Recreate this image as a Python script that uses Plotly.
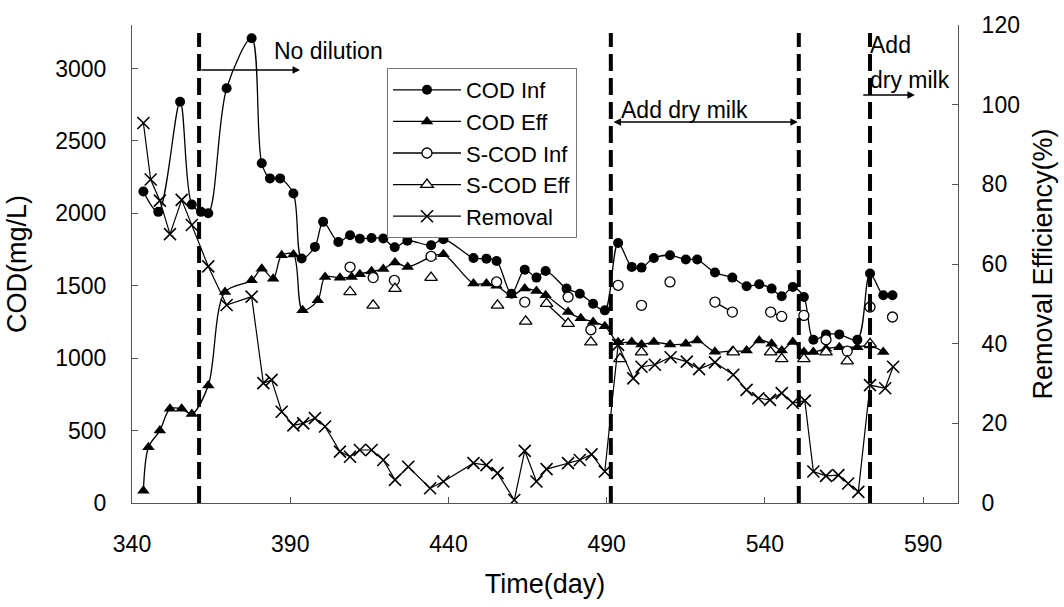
import plotly.graph_objects as go

# ---------------- data ----------------
cod_inf_day = [343.6, 348.3, 355.2, 358.9, 361.8, 364.1, 369.9, 377.8, 381.0, 383.6, 386.8, 391.0,
               393.6, 397.8, 400.4, 405.2, 408.9, 412.0, 415.7, 419.4, 423.0, 427.0, 434.5, 438.4,
               447.9, 452.0, 455.2, 459.9, 464.1, 467.8, 470.7, 477.3, 481.5, 485.7, 489.4,
               493.6, 497.9, 501.0, 504.9, 510.0, 515.0, 518.6, 524.2, 529.7, 534.2, 538.2, 542.1,
               545.3, 548.8, 552.3, 555.3, 559.3, 563.5, 569.2, 573.2, 577.4, 580.3]
cod_inf = [2150, 2010, 2770, 2060, 2010, 2000, 2863, 3209, 2345, 2241, 2241, 2137,
           1688, 1768, 1941, 1802, 1849, 1825, 1830, 1826, 1766, 1810, 1780, 1821,
           1692, 1687, 1671, 1445, 1611, 1556, 1602, 1480, 1445, 1376, 1330,
           1795, 1630, 1625, 1692, 1710, 1681, 1681, 1591, 1556, 1496, 1510, 1480,
           1427, 1491, 1422, 1127, 1164, 1164, 1127, 1584, 1434, 1434]

cod_eff_day = [343.6, 345.2, 348.8, 352.0, 355.7, 358.9, 364.1, 369.4, 377.8, 381.0, 384.6, 387.3,
               391.0, 393.9, 398.7, 401.0, 405.7, 409.4, 412.0, 415.7, 419.4, 423.1, 427.1, 434.5,
               438.4, 447.9, 452.0, 455.2, 459.9, 464.1, 467.8, 470.7, 477.8, 481.8, 485.7, 489.4,
               493.6, 497.9, 501.0, 504.9, 510.0, 515.0, 518.6, 524.2, 529.7, 534.2, 538.2, 542.1,
               545.3, 548.8, 552.3, 555.3, 559.3, 563.5, 569.2, 573.2, 577.4]
cod_eff = [85, 385, 500, 650, 650, 615, 811, 1457, 1537, 1618, 1549, 1710,
           1715, 1330, 1399, 1560, 1555, 1560, 1580, 1600, 1615, 1660, 1630, 1700,
           1717, 1515, 1515, 1500, 1434, 1480, 1463, 1434, 1318, 1275, 1250, 1220,
           1110, 1111, 1095, 1111, 1095, 1099, 1122, 1045, 1050, 1053, 1122, 1099,
           1053, 1111, 1042, 1042, 1065, 1076, 1076, 1088, 1042]

# None separates points that are not joined by a line
scod_inf_day = [408.9, None, 416.2, None, 422.9, None, 434.5, None, 455.2, None, 464.1, None,
                477.8, None, 485.0, None, 493.6, None, 501.0, None, 510.0, None, 524.2, 529.7, None,
                541.8, 545.3, None, 552.3, None, 559.3, None, 566.0, None, 573.2, None, 580.3]
scod_inf = [1629, None, 1556, None, 1537, None, 1703, None, 1526, None, 1387, None,
            1422, None, 1196, None, 1503, None, 1365, None, 1526, None, 1387, 1318, None,
            1318, 1288, None, 1295, None, 1127, None, 1049, None, 1353, None, 1284]

scod_eff_day = [408.9, None, 416.2, None, 423.1, None, 434.5, None, 455.5, None, 464.4, None,
                471.0, 477.8, None, 485.0, None, 494.2, None, 501.0, None, 530.0, None, 541.8, None,
                545.3, None, 552.3, None, 559.3, None, 566.0, None, 573.2]
scod_eff = [1457, None, 1365, None, 1480, None, 1556, None, 1365, None, 1254, None,
            1376, 1238, None, 1111, None, 995, None, 1042, None, 1042, None, 1042, None,
            995, None, 995, None, 1042, None, 980, None, 1099]

removal_day = [343.6, 345.9, 348.8, 352.0, 355.7, 358.9, 364.1, 369.9, 377.8, 381.5, 384.1, 387.3,
               391.0, 394.1, 397.8, 401.0, 405.7, 408.9, 412.0, 415.7, 419.4, 423.1, 427.3, 434.2,
               438.4, 447.9, 452.0, 455.5, 460.8, 464.1, 467.8, 471.0, 477.8, 481.5, 485.2, 489.4,
               493.6, 498.4, 501.0, 505.2, 510.2, 515.3, 519.2, 524.2, 530.0, 534.2, 537.9, 541.6,
               545.3, 548.8, 552.6, 555.3, 559.3, 563.2, 566.3, 569.5, 573.2, 578.0, 580.5]
removal = [95.4, 81.2, 75.9, 67.5, 76.1, 69.8, 59.4, 49.7, 51.8, 30.1, 30.9, 22.9,
           19.5, 20.0, 21.3, 19.2, 12.9, 11.6, 13.3, 13.3, 10.8, 5.8, 9.1, 3.7,
           5.4, 10.0, 9.5, 7.5, 0.75, 13.1, 5.4, 8.5, 10.0, 10.8, 12.2, 7.9,
           39.7, 31.3, 34.2, 34.7, 36.6, 35.5, 33.6, 35.3, 32.2, 28.4, 26.3, 25.9,
           27.6, 25.1, 25.7, 7.9, 6.8, 7.0, 4.9, 2.8, 29.6, 28.8, 34.2]

phase_days = [361.2, 491.3, 550.7, 573.2]
x_ticks = [340, 390, 440, 490, 540, 590]
y_ticks = [0, 500, 1000, 1500, 2000, 2500, 3000]
y2_ticks = [0, 20, 40, 60, 80, 100, 120]

FONT = "Liberation Sans, Arial, sans-serif"
LINE = dict(color="black", width=1.3, shape="spline", smoothing=0.9)

fig = go.Figure()
fig.add_trace(go.Scatter(x=cod_inf_day, y=cod_inf, name="COD Inf", mode="lines+markers",
                         line=LINE, marker=dict(symbol="circle", size=10, color="black")))
fig.add_trace(go.Scatter(x=cod_eff_day, y=cod_eff, name="COD Eff", mode="lines+markers",
                         line=LINE, marker=dict(symbol="triangle-up", size=11, color="black")))
fig.add_trace(go.Scatter(x=scod_inf_day, y=scod_inf, name="S-COD Inf", mode="lines+markers",
                         line=LINE, connectgaps=False,
                         marker=dict(symbol="circle", size=10, color="white",
                                     line=dict(color="black", width=1.3))))
fig.add_trace(go.Scatter(x=scod_eff_day, y=scod_eff, name="S-COD Eff", mode="lines+markers",
                         line=LINE, connectgaps=False,
                         marker=dict(symbol="triangle-up", size=11, color="white",
                                     line=dict(color="black", width=1.3))))
fig.add_trace(go.Scatter(x=removal_day, y=removal, name="Removal", mode="lines+markers",
                         yaxis="y2", line=dict(color="black", width=1.2),
                         marker=dict(symbol="x-thin", size=12, color="black",
                                     line=dict(color="black", width=1.6))))

for d in phase_days:
    fig.add_shape(type="line", xref="x", yref="y", x0=d, x1=d, y0=0, y1=3245,
                  line=dict(color="black", width=4, dash="17px,7px"), layer="above")

arrow = dict(showarrow=True, text="", xref="x", yref="y", axref="x", ayref="y",
             arrowhead=2, arrowsize=1, arrowwidth=1.5, arrowcolor="black")
fig.add_annotation(x=393.1, y=2990, ax=361.5, ay=2990, **arrow)
fig.add_annotation(x=550.4, y=2630, ax=491.7, ay=2630, arrowside="end+start", **arrow)
fig.add_annotation(x=587.4, y=2817, ax=570.6, ay=2817, **arrow)

txt = dict(showarrow=False, xref="x", yref="y", xanchor="left", yanchor="middle",
           font=dict(family=FONT, size=23, color="black"))
fig.add_annotation(x=384.2, y=3122, text="No dilution", **txt)
fig.add_annotation(x=493.9, y=2712, text="Add dry milk", **txt)
fig.add_annotation(x=572.5, y=3163, text="Add", **txt)
fig.add_annotation(x=572.5, y=2920, text="dry milk", **txt)

axis_common = dict(showgrid=False, zeroline=False, showline=True, linecolor="#555", linewidth=1,
                   ticks="inside", ticklen=6, tickcolor="#555",
                   tickfont=dict(family=FONT, size=23, color="black"))

fig.update_layout(
    width=1064, height=607,
    margin=dict(l=132, r=106, t=25, b=104),
    paper_bgcolor="white", plot_bgcolor="white",
    font=dict(family=FONT, color="black"),
    showlegend=True,
    legend=dict(x=0.3087, y=0.91, xanchor="left", yanchor="top",
                bgcolor="white", bordercolor="#777", borderwidth=1,
                font=dict(family=FONT, size=22, color="black"),
                itemwidth=68, tracegroupgap=0),
    xaxis=dict(range=[340, 601], tickvals=x_ticks, ticklabelstandoff=20,
               title=dict(text="Time(day)", font=dict(family=FONT, size=27), standoff=18),
               **axis_common),
    yaxis=dict(range=[0, 3300], tickvals=y_ticks, ticklabelstandoff=20,
               title=dict(text="COD(mg/L)", font=dict(family=FONT, size=27), standoff=20),
               **axis_common),
    yaxis2=dict(range=[0, 120], tickvals=y2_ticks, overlaying="y", side="right", ticklabelstandoff=18,
                title=dict(text="Removal Efficiency(%)", font=dict(family=FONT, size=27), standoff=14),
                **axis_common),
)

fig.write_html("out.html")
